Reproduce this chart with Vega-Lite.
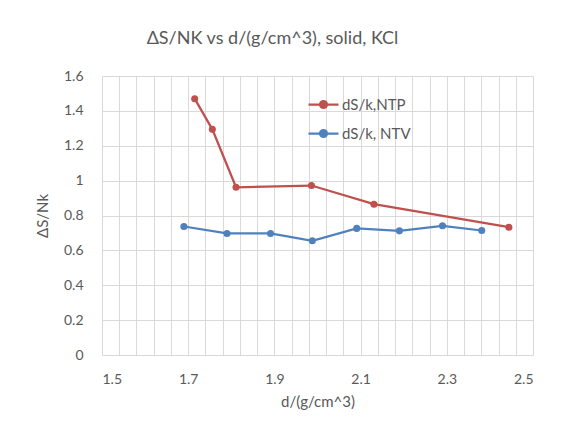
{
  "$schema": "https://vega.github.io/schema/vega-lite/v6.json",
  "width": 431,
  "height": 279,
  "autosize": "none",
  "padding": {"left": 102, "top": 76, "right": 45, "bottom": 78},
  "background": "white",
  "config": {
    "font": "Lato",
    "view": {"stroke": null},
    "axis": {"labelColor": "#595959", "titleColor": "#595959", "labelFont": "Lato", "titleFont": "Lato", "titleFontWeight": "normal", "gridColor": "#D9D9D9", "gridWidth": 1, "domain": false, "ticks": false}
  },
  "title": {
    "text": "ΔS/NK vs d/(g/cm^3), solid, KCl",
    "fontSize": 18,
    "fontWeight": "normal",
    "color": "#595959",
    "font": "Lato",
    "anchor": "middle",
    "baseline": "alphabetic",
    "offset": 7,
    "dx": -45
  },
  "data": {
    "values": [
      {"d": 1.715, "v": 1.47, "s": "dS/k,NTP"},
      {"d": 1.756, "v": 1.294, "s": "dS/k,NTP"},
      {"d": 1.811, "v": 0.962, "s": "dS/k,NTP"},
      {"d": 1.986, "v": 0.972, "s": "dS/k,NTP"},
      {"d": 2.131, "v": 0.865, "s": "dS/k,NTP"},
      {"d": 2.444, "v": 0.733, "s": "dS/k,NTP"},
      {"d": 1.69, "v": 0.737, "s": "dS/k, NTV"},
      {"d": 1.79, "v": 0.697, "s": "dS/k, NTV"},
      {"d": 1.891, "v": 0.697, "s": "dS/k, NTV"},
      {"d": 1.988, "v": 0.655, "s": "dS/k, NTV"},
      {"d": 2.091, "v": 0.726, "s": "dS/k, NTV"},
      {"d": 2.19, "v": 0.712, "s": "dS/k, NTV"},
      {"d": 2.29, "v": 0.741, "s": "dS/k, NTV"},
      {"d": 2.381, "v": 0.714, "s": "dS/k, NTV"}
    ]
  },
  "encoding": {
    "x": {
      "field": "d", "type": "quantitative",
      "scale": {"domain": [1.5, 2.5], "nice": false, "zero": false},
      "axis": {
        "title": "d/(g/cm^3)",
        "titleFontSize": 15,
        "labelFontSize": 14,
        "labelPadding": 17,
        "titlePadding": 8,
        "values": [1.5, 1.54, 1.58, 1.62, 1.66, 1.7, 1.74, 1.78, 1.82, 1.86, 1.9, 1.94, 1.98, 2.02, 2.06, 2.1, 2.14, 2.18, 2.22, 2.26, 2.3, 2.34, 2.38, 2.42, 2.46, 2.5],
        "labelExpr": "abs(round((datum.value - 1.5) * 5) - (datum.value - 1.5) * 5) < 0.001 ? format(datum.value, '.1f') : ''"
      }
    },
    "y": {
      "field": "v", "type": "quantitative",
      "scale": {"domain": [0, 1.6], "nice": false},
      "axis": {
        "title": "ΔS/Nk",
        "titleFontSize": 15,
        "labelFontSize": 14,
        "labelPadding": 19,
        "titlePadding": 13,
        "values": [0, 0.2, 0.4, 0.6, 0.8, 1, 1.2, 1.4, 1.6],
        "format": ".1~f"
      }
    },
    "color": {
      "field": "s", "type": "nominal",
      "scale": {"domain": ["dS/k,NTP", "dS/k, NTV"], "range": ["#C0504D", "#4F81BD"]},
      "legend": {
        "title": null,
        "orient": "none",
        "legendX": 205,
        "legendY": 12,
        "symbolType": "M-1,0H1M-0.233,0a0.233,0.233 0 1,0 0.466,0a0.233,0.233 0 1,0 -0.466,0",
        "symbolSize": 900,
        "symbolStrokeWidth": 2.25,
        "labelFontSize": 15,
        "labelColor": "#595959",
        "labelFont": "Lato",
        "labelOffset": 2,
        "rowPadding": 4,
        "encode": {
          "symbols": {"update": {"fill": {"scale": "color", "field": "value"}, "stroke": {"scale": "color", "field": "value"}}}
        }
      }
    }
  },
  "layer": [
    {"mark": {"type": "line", "strokeWidth": 2.25}},
    {"mark": {"type": "point", "filled": true, "opacity": 1, "size": 50, "shape": "circle"}}
  ]
}
